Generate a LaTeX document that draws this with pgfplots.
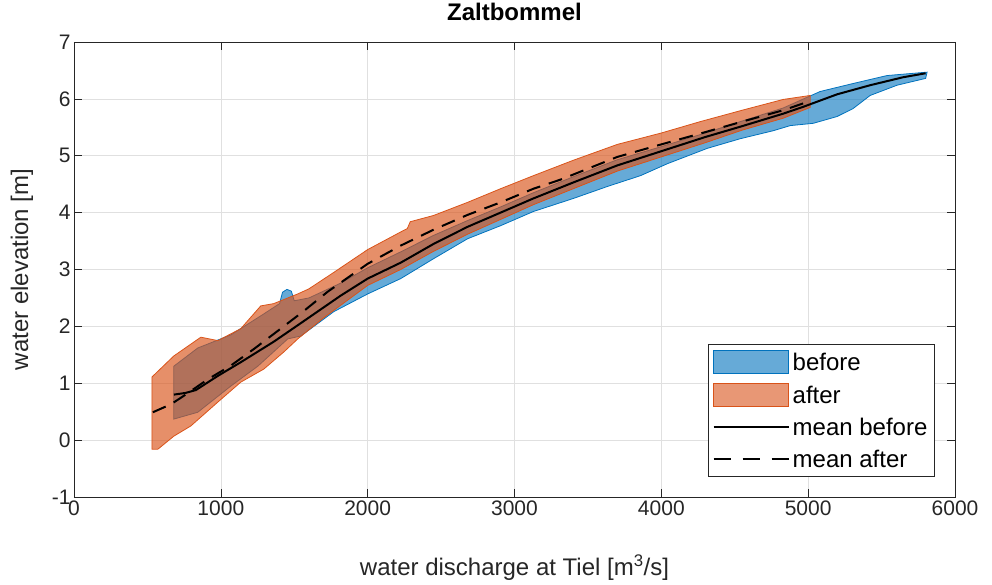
\documentclass[border=0pt]{standalone}
\usepackage{pgfplots}
\pgfplotsset{compat=1.18}
\usepackage{fontspec}
\setmainfont{Liberation Sans}
\definecolor{mblue}{rgb}{0,0.447,0.741}
\definecolor{morange}{rgb}{0.85,0.325,0.098}
\definecolor{axgray}{gray}{0.15}
\begin{document}
\begin{tikzpicture}
\begin{axis}[
 scale only axis, width=881pt, height=455pt,
 xmin=0, xmax=6000, ymin=-1, ymax=7,
 xtick={0,1000,...,6000}, ytick={-1,0,...,7},
 grid=major, major grid style={color=black!12, line width=0.5pt},
 tick align=inside, tick pos=both, major tick length=8pt,
 axis line style={color=axgray, line width=0.6pt},
 tick style={color=axgray, line width=0.6pt},
 ticklabel style={font=\fontsize{21}{25}\selectfont, color=axgray},
 /pgf/number format/assume math mode=true,
 /pgf/number format/1000 sep={},
 scaled ticks=false,
 xlabel={water discharge at Tiel [m\textsuperscript{3}/s]},
 ylabel={water elevation [m]},
 label style={font=\fontsize{24}{28}\selectfont, color=axgray},
 xlabel style={at={(axis description cs:0.5,-0.156)}, anchor=center},
 ylabel style={at={(axis description cs:-0.059,0.5)}, anchor=center},
 title={Zaltbommel},
 title style={at={(axis description cs:0.5,1.053)}, anchor=center, font=\fontsize{24}{28}\selectfont\bfseries},
 legend style={at={(0.977,0.044)}, anchor=south east, draw=axgray, line width=0.6pt, fill=white,
   font=\fontsize{24}{28}\selectfont, text=black, row sep=9pt, inner xsep=4pt, inner ysep=6pt,
   cells={anchor=west}, nodes={inner xsep=3pt}},
 legend cell align=left,
]
% before band
\addplot[draw=mblue, line width=0.8pt, fill=mblue, fill opacity=0.6,
  legend image code/.code={\draw[draw=mblue, fill=mblue, fill opacity=0.6, line width=0.8pt] (0pt,-11pt) rectangle (75pt,12pt);}]
coordinates {
(680,1.30) (843,1.62) (1068,1.85) (1293,2.22) (1400,2.40) (1420,2.60) (1450,2.65) (1480,2.62) (1500,2.45) (1600,2.50) (1816,2.76) (2000,3.03) (2225,3.31) (2449,3.60) (2680,3.86) (2905,4.10) (3129,4.35) (3400,4.63) (3700,4.93) (4000,5.16) (4300,5.40) (4550,5.61) (4830,5.84) (5082,6.13) (5306,6.27) (5537,6.41) (5810,6.47)
(5800,6.36) (5605,6.24) (5422,6.06) (5306,5.83) (5197,5.69) (5034,5.57) (4878,5.53) (4762,5.44) (4538,5.30) (4313,5.13) (4041,4.86) (3858,4.65) (3633,4.46) (3402,4.25) (3129,4.02) (2905,3.77) (2680,3.54) (2449,3.19) (2225,2.84) (2000,2.57) (1770,2.26) (1544,1.83) (1456,1.78) (1252,1.30) (1068,0.95) (843,0.49) (680,0.37)
} -- cycle;
\addlegendentry{before}
% after band
\addplot[draw=morange, line width=0.8pt, fill=morange, fill opacity=0.65,
  legend image code/.code={\draw[draw=morange, fill=morange, fill opacity=0.6, line width=0.8pt] (0pt,-11pt) rectangle (75pt,12pt);}]
coordinates {
(531,1.11) (680,1.48) (864,1.81) (980,1.75) (1136,1.96) (1272,2.36) (1360,2.40) (1524,2.57) (1600,2.66) (1770,2.95) (2000,3.35) (2225,3.66) (2270,3.72) (2290,3.84) (2449,3.95) (2680,4.18) (2905,4.42) (3129,4.65) (3400,4.92) (3701,5.20) (4000,5.40) (4265,5.60) (4550,5.80) (4830,5.99) (5014,6.06)
(5014,5.85) (4830,5.66) (4550,5.45) (4300,5.23) (4000,4.98) (3700,4.73) (3400,4.42) (3129,4.14) (2905,3.88) (2680,3.62) (2449,3.32) (2225,3.00) (2000,2.72) (1700,2.15) (1524,1.78) (1429,1.55) (1293,1.25) (1136,1.02) (980,0.67) (796,0.25) (680,0.07) (571,-0.16) (531,-0.16)
} -- cycle;
\addlegendentry{after}
% mean before
\addplot[black, line width=2pt,
  legend image code/.code={\draw[black, line width=2pt] (0pt,0pt) -- (75pt,0pt);}]
coordinates {
(680,0.80) (760,0.83) (830,0.88) (980,1.13) (1136,1.37) (1360,1.73) (1524,2.02) (1816,2.54) (2000,2.84) (2225,3.12) (2449,3.45) (2680,3.75) (2905,4.00) (3129,4.25) (3400,4.53) (3700,4.83) (4000,5.08) (4300,5.33) (4550,5.52) (4830,5.74) (4966,5.86) (5197,6.08) (5422,6.24) (5646,6.38) (5800,6.45)
};
\addlegendentry{mean before}
% mean after
\addplot[black, line width=2pt, dash pattern=on 14pt off 9pt,
  legend image code/.code={\draw[black, line width=2pt, dash pattern=on 17pt off 12pt] (0pt,0pt) -- (75pt,0pt);}]
coordinates {
(537,0.49) (660,0.63) (760,0.80) (912,1.07) (1068,1.31) (1224,1.60) (1408,1.96) (1565,2.27) (1728,2.61) (2000,3.10) (2225,3.42) (2449,3.70) (2565,3.83) (2680,3.96) (2905,4.18) (3129,4.42) (3313,4.58) (3701,4.98) (4000,5.20) (4265,5.39) (4550,5.60) (4830,5.80) (5000,5.95)
};
\addlegendentry{mean after}
\end{axis}
\pgfresetboundingbox
\path (current axis.south west) ++(-74pt,-88pt) rectangle ++(992pt,585pt);
\end{tikzpicture}
\end{document}
